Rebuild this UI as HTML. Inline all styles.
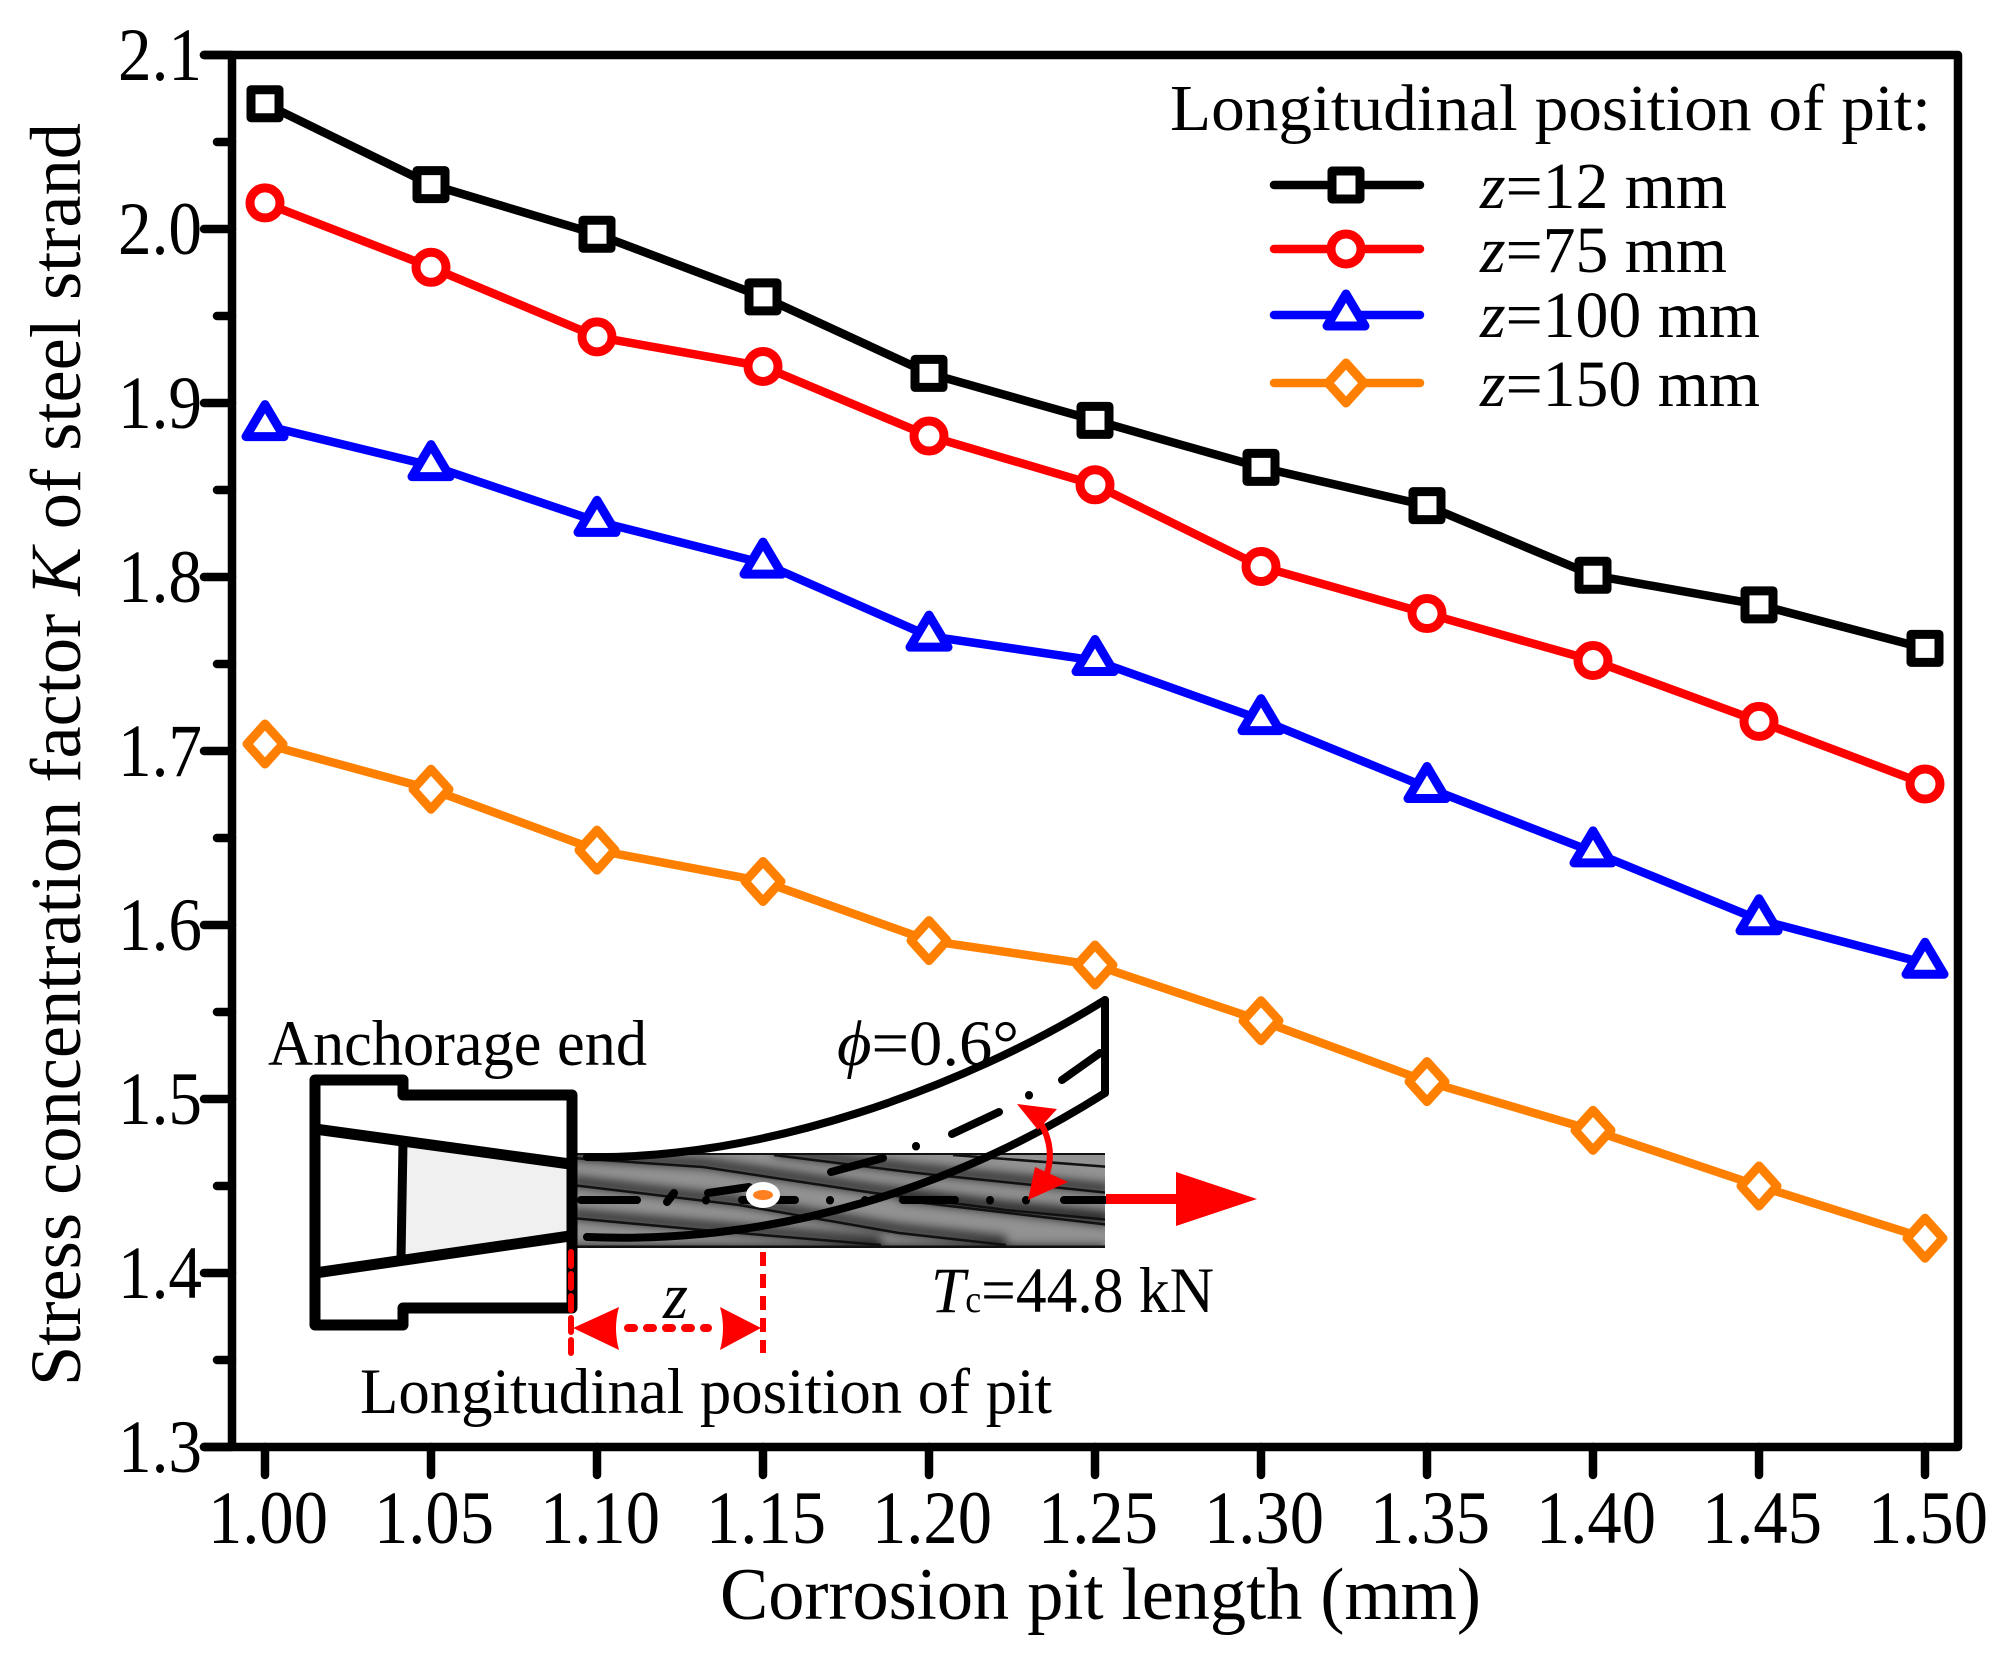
<!DOCTYPE html>
<html lang="en">
<head>
<meta charset="utf-8">
<title>Stress concentration factor vs corrosion pit length</title>
<style>
html,body{margin:0;padding:0;background:#fff;}
svg{display:block;}
text{font-family:"Liberation Serif","Times New Roman",serif;fill:#000;}
</style>
</head>
<body>
<svg id="chart" xmlns="http://www.w3.org/2000/svg" width="2009" height="1659" viewBox="0 0 2009 1659">
  <defs>
    <clipPath id="strand-clip"><rect x="572" y="1153" width="533" height="95"/></clipPath>
    <filter id="wire-blur" x="-5%" y="-50%" width="110%" height="200%"><feGaussianBlur stdDeviation="5"/></filter>
  </defs>
  <rect width="2009" height="1659" fill="#fff"/>

  <g id="inset">
    <g clip-path="url(#strand-clip)">
      <rect x="572" y="1153" width="533" height="95" fill="#929292"/>
      <g fill="none" stroke="#000" stroke-width="9" opacity="0.75" filter="url(#wire-blur)">
        <path d="M572,1155 L703,1163 L874,1189 L1006,1206 L1110,1216"/>
        <path d="M572,1181 L739,1201 L899,1229 L1006,1241"/>
        <path d="M572,1214 L703,1226 L881,1241"/>
        <path d="M774,1151 L917,1169 L1110,1189"/>
        <path d="M899,1196 L1110,1221"/>
        <path d="M572,1250 L1105,1250"/>
      </g>
      <g fill="none" stroke="#111" stroke-width="2.5">
        <path d="M572,1158 L703,1167 L874,1193 L1006,1210 L1110,1220"/>
        <path d="M572,1185 L739,1205 L899,1233 L1006,1245"/>
        <path d="M572,1218 L703,1230 L881,1245"/>
        <path d="M774,1155 L917,1173 L1110,1193"/>
        <path d="M899,1200 L1110,1225"/>
        <path d="M953,1155 L1110,1167"/>
        <path d="M572,1153.5 L1105,1153.5" stroke-width="3"/>
        <path d="M572,1247 L1105,1247" stroke-width="3"/>
      </g>
    </g>
    <polygon points="405,1146 568,1167 568,1233 405,1256" fill="#f0f0f0"/>
    <path d="M572,1308 L403,1308 L403,1325 L315,1325 L315,1080 L403,1080 L403,1095 L572,1095 Z" fill="none" stroke="#000" stroke-width="11" stroke-linejoin="round"/>
    <path d="M315,1129 L570,1164" fill="none" stroke="#000" stroke-width="11"/>
    <path d="M315,1273 L570,1236" fill="none" stroke="#000" stroke-width="11"/>
    <path d="M403,1143 L401,1258" fill="none" stroke="#000" stroke-width="9"/>
    <path d="M587,1157 C760,1160 960,1090 1105,1000" fill="none" stroke="#000" stroke-width="8" stroke-linecap="round"/>
    <path d="M587,1237 C780,1245 960,1185 1105,1093" fill="none" stroke="#000" stroke-width="8" stroke-linecap="round"/>
    <path d="M1105,1000 L1105,1093" fill="none" stroke="#000" stroke-width="8" stroke-linecap="round"/>
    <path d="M667,1202 L674,1193 M708,1193 L749,1187 M831,1172 L883,1158 M916,1146 L916,1146.5 M952,1134 L999,1112 M1029,1095 L1029,1095.5 M1062,1080 L1100,1053" fill="none" stroke="#000" stroke-width="8" stroke-linecap="round"/>
    <path d="M581,1200 L637,1200 M706,1200 L706,1200.5 M742,1200 L795,1200 M830,1200 L830,1200.5 M865,1200 L865,1200.5 M903,1200 L955,1200 M990,1200 L990,1200.5 M1026,1200 L1026,1200.5 M1064,1200 L1105,1200" fill="none" stroke="#000" stroke-width="8" stroke-linecap="round"/>
    <ellipse cx="763" cy="1195" rx="17" ry="13" fill="#fff"/>
    <ellipse cx="763" cy="1195" rx="10" ry="5" fill="#ff8020"/>
    <path d="M1106,1199 L1180,1199" fill="none" stroke="#f00" stroke-width="10"/>
    <polygon points="1176,1172 1257,1199 1176,1226" fill="#f00"/>
    <path d="M1035,1115 Q1062,1150 1040,1190" fill="none" stroke="#f00" stroke-width="6"/>
    <polygon points="1017,1104 1057,1109 1038,1130" fill="#f00"/>
    <polygon points="1028,1200 1068,1182 1035,1167" fill="#f00"/>
    <path d="M571,1252 L571,1353" fill="none" stroke="#f00" stroke-width="6" stroke-dasharray="14 8" stroke-linecap="round"/>
    <path d="M763,1252 L763,1353" fill="none" stroke="#f00" stroke-width="6" stroke-dasharray="14 8"/>
    <path d="M628,1328 L708,1328" fill="none" stroke="#f00" stroke-width="8" stroke-dasharray="6 13" stroke-linecap="round"/>
    <path d="M573,1328 L619,1307 Q613,1328 619,1350 Z" fill="#f00"/>
    <path d="M761,1328 L720,1307 Q726,1328 720,1350 Z" fill="#f00"/>

    <text x="268" y="1065" font-size="65" textLength="379" lengthAdjust="spacingAndGlyphs">Anchorage end</text>
    <text x="837" y="1065" font-size="65" textLength="182" lengthAdjust="spacingAndGlyphs"><tspan font-style="italic">ϕ</tspan>=0.6°</text>
    <text x="931" y="1312" font-size="65" textLength="283" lengthAdjust="spacingAndGlyphs"><tspan font-style="italic">T</tspan><tspan font-size="38">c</tspan>=44.8 kN</text>
    <text x="663" y="1318" font-size="66" font-style="italic" textLength="25" lengthAdjust="spacingAndGlyphs">z</text>
    <text x="360" y="1413" font-size="65" textLength="692" lengthAdjust="spacingAndGlyphs">Longitudinal position of pit</text>
  </g>

  <g id="axes"></g>
  <g id="series"></g>

  <text x="720" y="1619" font-size="74" textLength="761" lengthAdjust="spacingAndGlyphs">Corrosion pit length (mm)</text>
  <text transform="translate(80 1386) rotate(-90)" font-size="72" textLength="1263" lengthAdjust="spacingAndGlyphs">Stress concentration factor <tspan font-style="italic">K</tspan> of steel strand</text>

  <g id="legend">
    <text x="1170" y="130" font-size="66" textLength="761" lengthAdjust="spacingAndGlyphs">Longitudinal position of pit:</text>
  </g>
</svg>
<script>
const xCategories = [1.00, 1.05, 1.10, 1.15, 1.20, 1.25, 1.30, 1.35, 1.40, 1.45, 1.50];
const xTickLabels = ["1.00", "1.05", "1.10", "1.15", "1.20", "1.25", "1.30", "1.35", "1.40", "1.45", "1.50"];
const yTickLabels = ["1.3", "1.4", "1.5", "1.6", "1.7", "1.8", "1.9", "2.0", "2.1"];
const yMinorTicks = [1.35, 1.45, 1.55, 1.65, 1.75, 1.85, 1.95, 2.05];
const seriesZ12 = [2.072, 2.0255, 1.997, 1.961, 1.917, 1.890, 1.863, 1.841, 1.801, 1.784, 1.759];
const seriesZ75 = [2.015, 1.978, 1.938, 1.921, 1.881, 1.853, 1.806, 1.779, 1.752, 1.717, 1.681];
const seriesZ100 = [1.887, 1.864, 1.832, 1.808, 1.766, 1.752, 1.718, 1.679, 1.642, 1.603, 1.578];
const seriesZ150 = [1.704, 1.678, 1.643, 1.625, 1.591, 1.577, 1.545, 1.510, 1.482, 1.450, 1.420];
const seriesNames = ["z=12 mm", "z=75 mm", "z=100 mm", "z=150 mm"];

const NS = "http://www.w3.org/2000/svg";
const INK = 8.5;
function xAxis(v) { return 265 + (v - 1.0) * 3320; }
function yAxis(v) { return 1447 - (v - 1.3) * 1740; }
function make(tag, attrs, parent) {
  const el = document.createElementNS(NS, tag);
  for (const k in attrs) el.setAttribute(k, attrs[k]);
  parent.appendChild(el);
  return el;
}
const axes = document.getElementById("axes");
const seriesGroup = document.getElementById("series");
const legend = document.getElementById("legend");

const frame = make("path", {d: "M204,55 L1958,55 L1958,1447 L204,1447 M232,55 L232,1447", fill: "none", stroke: "#000", "stroke-width": INK, "stroke-linecap": "round", "stroke-linejoin": "round"}, axes);



yTickLabels.forEach(function (label) {
  const v = parseFloat(label);
  const y = yAxis(v);
  const tick = make("line", {x1: 204, x2: 232, y1: y, y2: y, stroke: "#000", "stroke-width": INK, "stroke-linecap": "round"}, axes);
  
  
  const t = make("text", {x: 118, y: y + 25, "font-size": 75, textLength: 84, lengthAdjust: "spacingAndGlyphs"}, axes);
  t.textContent = label;
  
  
});
yMinorTicks.forEach(function (v) {
  const y = yAxis(v);
  const tick = make("line", {x1: 217, x2: 232, y1: y, y2: y, stroke: "#000", "stroke-width": INK, "stroke-linecap": "round"}, axes);
  
  
});
xCategories.forEach(function (v, i) {
  const x = xAxis(v);
  const tick = make("line", {x1: x, x2: x, y1: 1447, y2: 1475, stroke: "#000", "stroke-width": INK, "stroke-linecap": "round"}, axes);
  
  
  const t = make("text", {x: x - 57, y: 1543, "font-size": 75, textLength: 120, lengthAdjust: "spacingAndGlyphs"}, axes);
  t.textContent = xTickLabels[i];
  
  
});

function drawMarker(kind, color, x, y, parent) {
  const base = {fill: "#fff", stroke: color, "stroke-width": 9, "stroke-linejoin": "round"};
  let m;
  if (kind === "square") {
    m = make("rect", Object.assign({x: x - 14, y: y - 14, width: 28, height: 28}, base), parent);
  } else if (kind === "circle") {
    m = make("circle", Object.assign({cx: x, cy: y, r: 15}, base), parent);
  } else if (kind === "triangle") {
    m = make("polygon", Object.assign({points: [x, y - 21, x + 19, y + 11, x - 19, y + 11].join(",")}, base), parent);
  } else {
    m = make("polygon", Object.assign({points: [x, y - 20, x + 18, y, x, y + 20, x - 18, y].join(",")}, base), parent);
  }
  return m;
}

function drawSeries(values, color, kind, name) {
  const g = make("g", {}, seriesGroup);
  
  
  const pts = values.map(function (v, i) { return xAxis(xCategories[i]) + "," + yAxis(v); }).join(" ");
  const line = make("polyline", {points: pts, fill: "none", stroke: color, "stroke-width": INK, "stroke-linejoin": "round"}, g);
  
  
  values.forEach(function (v, i) {
    const m = drawMarker(kind, color, xAxis(xCategories[i]), yAxis(v), g);
    
    
  });
}
drawSeries(seriesZ12, "#000000", "square", "series-z-12");
drawSeries(seriesZ75, "#ff0000", "circle", "series-z-75");
drawSeries(seriesZ100, "#0000ff", "triangle", "series-z-100");
drawSeries(seriesZ150, "#ff8000", "diamond", "series-z-150");

function drawLegendEntry(i, color, kind, y, baseline, width) {
  const g = make("g", {}, legend);
  
  
  const line = make("line", {x1: 1274, x2: 1420, y1: y, y2: y, stroke: color, "stroke-width": INK, "stroke-linecap": "round"}, g);
  
  
  const m = drawMarker(kind, color, 1346, y, g);
  
  
  const t = make("text", {x: 1480, y: baseline, "font-size": 66, textLength: width, lengthAdjust: "spacingAndGlyphs"}, g);
  const z = make("tspan", {"font-style": "italic"}, t);
  z.textContent = seriesNames[i].slice(0, 1);
  const rest = make("tspan", {}, t);
  rest.textContent = seriesNames[i].slice(1);
  
  
}
drawLegendEntry(0, "#000000", "square", 185, 208, 247);
drawLegendEntry(1, "#ff0000", "circle", 249, 272, 247);
drawLegendEntry(2, "#0000ff", "triangle", 315, 337, 280);
drawLegendEntry(3, "#ff8000", "diamond", 383, 406, 280);
</script>
</body>
</html>
